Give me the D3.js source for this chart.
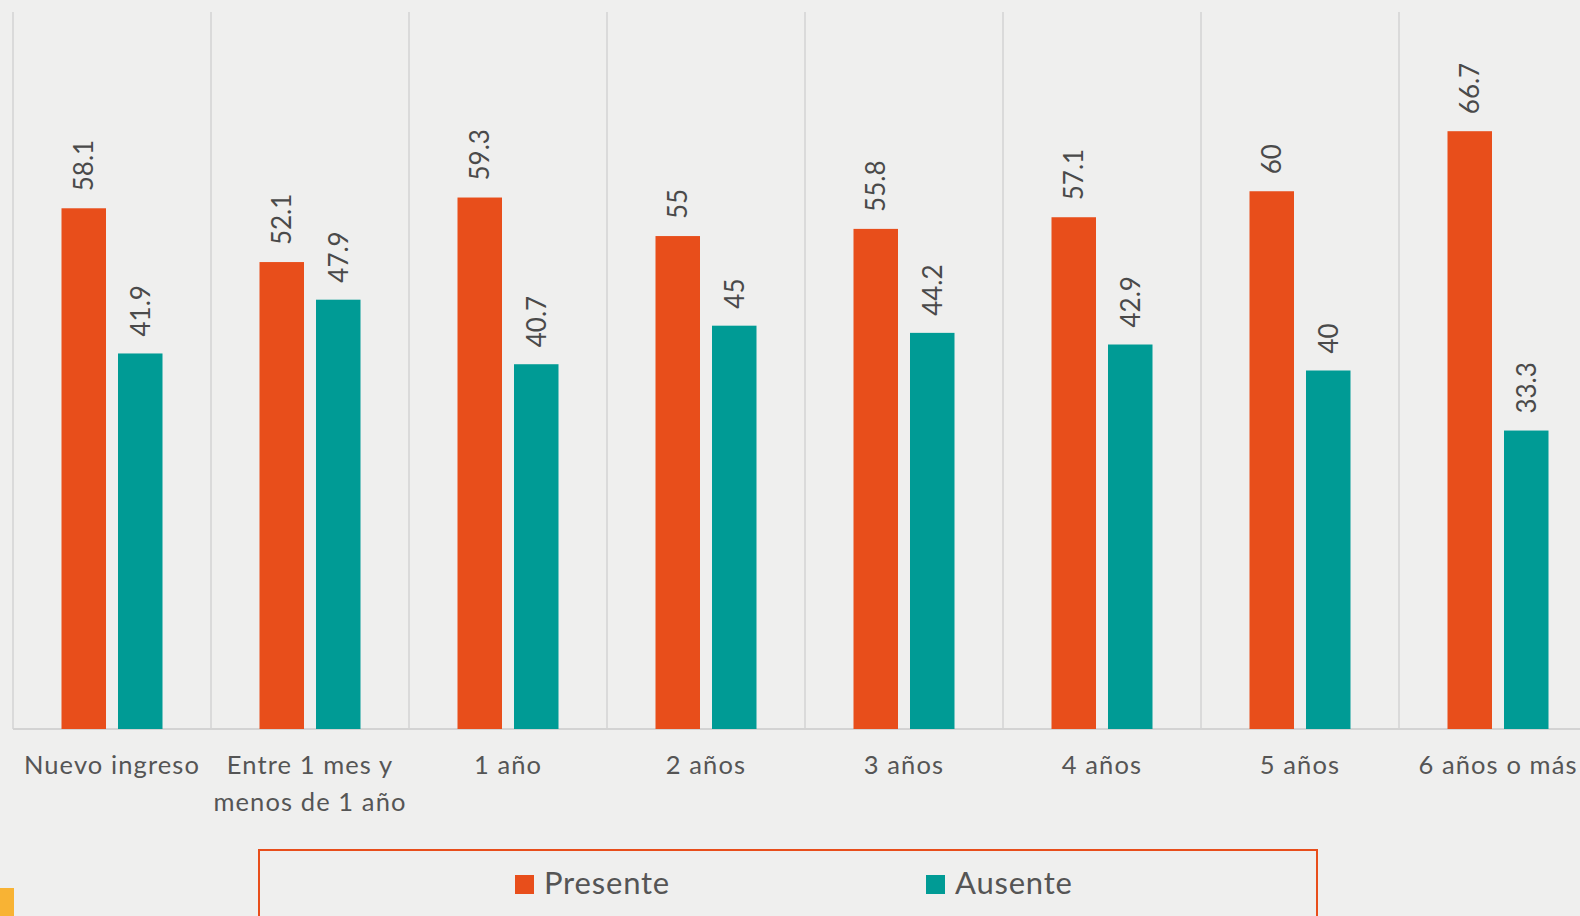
<!DOCTYPE html>
<html><head><meta charset="utf-8">
<script src="https://cdn.jsdelivr.net/npm/d3@7"></script>
<style>
html,body{margin:0;padding:0;background:#efefee;overflow:hidden;}
svg{display:block;}
</style></head>
<body>
<svg id="chart" width="1580" height="916"></svg>
<script>
const categories = ["Nuevo ingreso", "Entre 1 mes y\nmenos de 1 año", "1 año", "2 años", "3 años", "4 años", "5 años", "6 años o más"];
const seriesNames = ["Presente", "Ausente"];
const presente = [58.1, 52.1, 59.3, 55, 55.8, 57.1, 60, 66.7];
const ausente = [41.9, 47.9, 40.7, 45, 44.2, 42.9, 40, 33.3];
const colors = ["#E84E1B", "#009B95"];

const svg = d3.select("#chart");
const W = 1580, H = 916;
svg.append("rect").attr("width", W).attr("height", H).attr("fill", "#efefee");

const left = 13, step = 198, axisY = 729, topY = 12;
const x = d3.scaleBand().domain(categories).range([left, left + step * categories.length]).padding(0);
const x1 = d3.scaleBand().domain(seriesNames).range([48.5, step - 48.5]).paddingInner(0.2124).paddingOuter(0);
const y = d3.scaleLinear().domain([0, 80]).range([axisY, topY]);

// vertical gridlines
const edges = categories.map(c => x(c)).concat([x.range()[1]]);
svg.append("g").selectAll("line").data(edges).join("line")
  .attr("x1", d => d).attr("x2", d => d)
  .attr("y1", y(80)).attr("y2", y(0))
  .attr("stroke", "#d3d3d3").attr("stroke-width", 1.5);

// axis line
svg.append("line").attr("x1", left).attr("x2", x.range()[1])
  .attr("y1", y(0)).attr("y2", y(0))
  .attr("stroke", "#d3d3d3").attr("stroke-width", 2);

const data = categories.map((c, i) => ({cat: c, vals: [
  {s: seriesNames[0], v: presente[i]}, {s: seriesNames[1], v: ausente[i]}]}));

const groups = svg.append("g").selectAll("g").data(data).join("g")
  .attr("transform", d => `translate(${x(d.cat)},0)`);

groups.selectAll("rect").data(d => d.vals).join("rect")
  .attr("x", d => x1(d.s)).attr("width", x1.bandwidth())
  .attr("y", d => y(d.v)).attr("height", d => y(0) - y(d.v))
  .attr("fill", (d, i) => colors[i]);

groups.selectAll("text.val").data(d => d.vals).join("text")
  .attr("class", "val")
  .attr("transform", d => `translate(${x1(d.s) + x1.bandwidth() / 2},${y(d.v) - 17}) rotate(-90)`)
  .attr("dy", "0.36em")
  .attr("text-anchor", "start")
  .attr("font-family", "Lato, 'Noto Sans', sans-serif")
  .attr("font-size", 26)
  .attr("fill", "#4a4a4a")
  .text(d => String(d.v));

// x labels
const xl = svg.append("g").selectAll("text").data(categories).join("text")
  .attr("x", d => x(d) + step / 2)
  .attr("y", 774)
  .attr("text-anchor", "middle")
  .attr("font-family", "Lato, 'Noto Sans', sans-serif")
  .attr("font-size", 25.5)
  .attr("letter-spacing", 1.1)
  .attr("fill", "#555");
xl.each(function(d) {
  const lines = d.split("\n");
  d3.select(this).selectAll("tspan").data(lines).join("tspan")
    .attr("x", x(d) + step / 2)
    .attr("dy", (l, i) => i === 0 ? 0 : 37)
    .text(l => l);
});

// legend
svg.append("rect").attr("x", 259).attr("y", 850).attr("width", 1058).attr("height", 120)
  .attr("fill", "none").attr("stroke", "#E84E1B").attr("stroke-width", 2);
const legX = [515, 926];
const leg = svg.append("g").selectAll("g").data(seriesNames).join("g")
  .attr("transform", (d, i) => `translate(${legX[i]},875)`);
leg.append("rect").attr("width", 19).attr("height", 19).attr("fill", (d, i) => colors[i]);
leg.append("text").attr("x", 29).attr("y", 19)
  .attr("font-family", "Lato, 'Noto Sans', sans-serif")
  .attr("font-size", 31).attr("letter-spacing", 0.8).attr("fill", "#555")
  .text(d => d);

// decorative corner
svg.append("rect").attr("x", 0).attr("y", 888).attr("width", 14).attr("height", 28).attr("fill", "#F8B334");
</script>
</body></html>
